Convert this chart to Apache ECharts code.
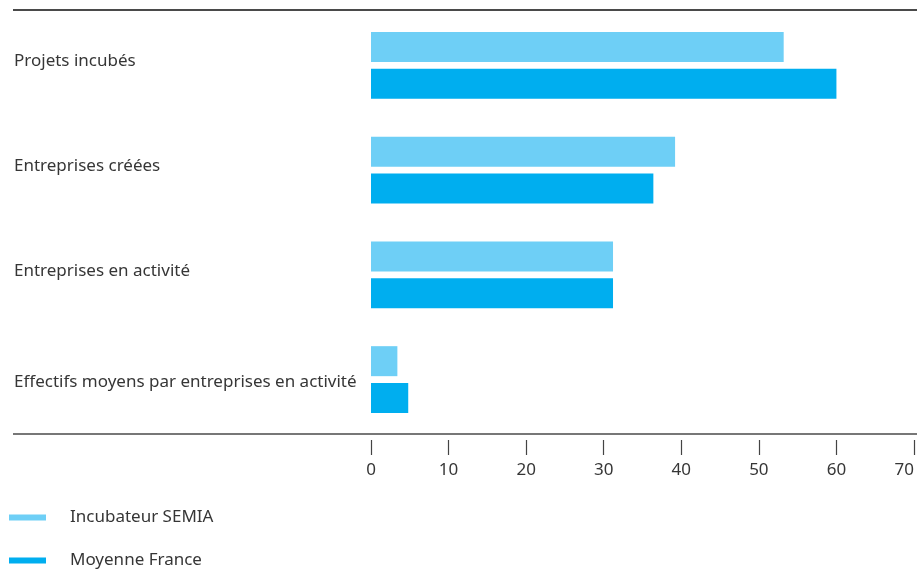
<!DOCTYPE html>
<html>
<head>
<meta charset="utf-8">
<script src="https://cdn.jsdelivr.net/npm/echarts@6/dist/echarts.min.js"></script>
<style>
html,body{margin:0;padding:0;background:#fff;}
#chart{width:917px;height:571px;}
</style>
</head>
<body>
<div id="chart"></div>
<script>
// Indicateurs de l'incubateur comparés à la moyenne nationale
const categories = [
  'Projets incubés',
  'Entreprises créées',
  'Entreprises en activité',
  'Effectifs moyens par entreprises en activité'
];
const semia = [53.2, 39.2, 31.2, 3.4];
const moyenneFrance = [60, 36.4, 31.2, 4.8];
const seriesNames = ['Incubateur SEMIA', 'Moyenne France'];

const FONT = '"Noto Sans", sans-serif';
const TEXT = '#363636';

const chart = echarts.init(document.getElementById('chart'));
chart.setOption({
  animation: false,
  textStyle: { fontFamily: FONT },
  grid: { left: 371, right: 3, top: 13, bottom: 139, containLabel: false, outerBoundsMode: 'none' },
  xAxis: {
    type: 'value',
    min: 0,
    max: 70,
    interval: 10,
    offset: 8,
    axisLine: { show: false },
    axisTick: { show: true, length: 15, lineStyle: { color: '#444', width: 1.2 } },
    splitLine: { show: false },
    axisLabel: { color: TEXT, fontSize: 17, fontFamily: FONT, margin: 22, alignMaxLabel: 'right' }
  },
  yAxis: {
    type: 'category',
    data: categories,
    inverse: true,
    axisLine: { show: false },
    axisTick: { show: false },
    axisLabel: {
      color: TEXT, fontSize: 17, fontFamily: FONT,
      align: 'left', margin: 357,
      // the last label sits a little lower than the others
      formatter: (v, i) => (i === categories.length - 1 ? '{low|' + v + '}' : '{up|' + v + '}'),
      rich: {
        up: { color: TEXT, fontSize: 17, fontFamily: FONT, padding: [0, 0, 8, 0] },
        low: { color: TEXT, fontSize: 17, fontFamily: FONT, padding: [6, 0, 0, 0] }
      }
    }
  },
  legend: {
    orient: 'vertical',
    left: 9,
    top: 509,
    padding: 0,
    icon: 'rect',
    itemWidth: 37,
    itemHeight: 6,
    itemGap: 26,
    data: seriesNames,
    textStyle: { color: TEXT, fontSize: 17, fontFamily: FONT, padding: [0, 0, 0, 19], lineHeight: 17 }
  },
  graphic: [
    { type: 'line', shape: { x1: 13, y1: 10, x2: 917, y2: 10 }, style: { stroke: '#4a4a4a', lineWidth: 2 } },
    { type: 'line', shape: { x1: 13, y1: 434, x2: 917, y2: 434 }, style: { stroke: '#4a4a4a', lineWidth: 1.5 } }
  ],
  series: [
    {
      name: seriesNames[0], type: 'bar', data: semia,
      barWidth: 30, barGap: '23%',
      itemStyle: { color: '#6ECFF6' }
    },
    {
      name: seriesNames[1], type: 'bar', data: moyenneFrance,
      barWidth: 30, barGap: '23%',
      itemStyle: { color: '#00AEEF' }
    }
  ]
});
</script>
</body>
</html>
